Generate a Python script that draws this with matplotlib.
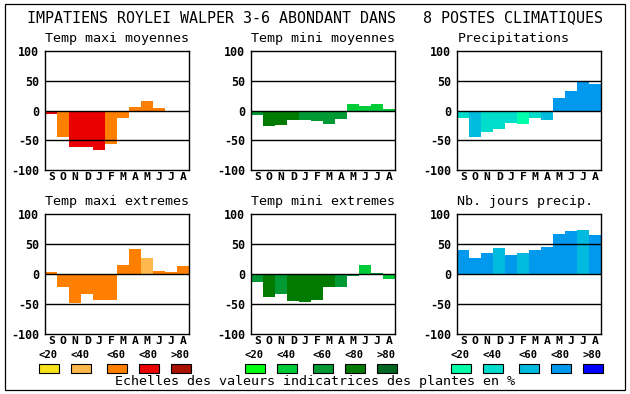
import matplotlib
matplotlib.use('Agg')
import matplotlib.pyplot as plt
from matplotlib.patches import Rectangle

months = ['S', 'O', 'N', 'D', 'J', 'F', 'M', 'A', 'M', 'J', 'J', 'A']
scale_labels = ['<20', '<40', '<60', '<80', '>80']

title = 'IMPATIENS ROYLEI WALPER 3-6 ABONDANT DANS   8 POSTES CLIMATIQUES'
footer = 'Echelles des valeurs indicatrices des plantes en %'

panel_titles = ['Temp maxi moyennes', 'Temp mini moyennes', 'Precipitations',
                'Temp maxi extremes', 'Temp mini extremes', 'Nb. jours precip.']

# values
tmax_moy = [-5.5, -44, -60.5, -60.5, -65.5, -56, -12, 5.5, 16, 4, -2, -2]
tmin_moy = [-8, -26, -24.5, -16, -16, -18, -23, -14.5, 10.5, 7, 11.5, 2]
precip = [-12, -44, -36, -31, -21, -23, -12, -16, 21.5, 33, 47, 44]
tmax_ext = [4, -21, -48, -33, -43, -43, 15.5, 42, 27, 5.5, 4, 14]
tmin_ext = [-13, -38, -33, -44.5, -46, -43, -21, -21, -3, 15, 2, -8]
nb_jours = [40.5, 27, 35.5, 44, 32, 35.5, 40.5, 45.5, 67, 72, 74, 65.5]

# colour class of each bar (0: <20 ... 4: >80)
tmax_moy_cls = [3, 2, 3, 3, 3, 2, 2, 2, 2, 2, 3, 3]
tmin_moy_cls = [2, 3, 3, 3, 2, 2, 2, 2, 1, 1, 1, 1]
precip_cls = [1, 2, 1, 1, 1, 0, 1, 2, 3, 3, 3, 3]
tmax_ext_cls = [2, 2, 2, 2, 2, 2, 2, 2, 1, 2, 2, 2]
tmin_ext_cls = [2, 3, 2, 3, 3, 3, 3, 2, 2, 1, 2, 1]
nb_jours_cls = [3, 3, 3, 2, 3, 2, 3, 3, 3, 3, 2, 3]

warm = ['#F6E31B', '#FFB84E', '#FF8000', '#EA0000', '#A81000']
green = ['#00FF10', '#00CC3A', '#009933', '#007A00', '#006622']
blue = ['#00FFAA', '#00DDCC', '#00BBDD', '#0099EE', '#0000FF']

values = [tmax_moy, tmin_moy, precip, tmax_ext, tmin_ext, nb_jours]
classes = [tmax_moy_cls, tmin_moy_cls, precip_cls, tmax_ext_cls, tmin_ext_cls, nb_jours_cls]
palettes = [warm, green, blue, warm, green, blue]

W, H = 630, 394
fig = plt.figure(figsize=(W / 100, H / 100), dpi=100)
mono = 'DejaVu Sans Mono'


def px(x, y, w, h):
    # pixel box (from top-left) -> figure fraction
    return [x / W, 1 - (y + h) / H, w / W, h / H]


fig.add_artist(Rectangle((5 / W, 1 - 390 / H), 620 / W, 386 / H,
                         transform=fig.transFigure, fill=False, lw=0.9, ec='black'))
fig.text(27 / W, 1 - 18 / H, title, family=mono, fontsize=10.8, va='center', ha='left')

lefts = [45.3, 251.3, 457.3]
tops = [50.8, 214.3]
for i in range(6):
    r, c = divmod(i, 3)
    ax = fig.add_axes(px(lefts[c], tops[r], 144, 119.5))
    cols = [palettes[i][k] for k in classes[i]]
    ax.bar(range(12), values[i], width=1.0, color=cols, linewidth=0, zorder=2)
    for yv in (-50, 0, 50):
        ax.axhline(yv, color='black', lw=1.0, zorder=3)
    ax.set_xlim(-0.5, 11.5)
    ax.set_ylim(-100, 100)
    ax.set_xticks(range(12))
    ax.set_xticklabels(months, family=mono, fontweight='bold', fontsize=8.2)
    ax.set_yticks([-100, -50, 0, 50, 100])
    ax.set_yticklabels(['-100', '-50', '0', '50', '100'], family=mono,
                       fontweight='bold', fontsize=8.4)
    ax.tick_params(axis='x', length=0, pad=1.5)
    ax.tick_params(axis='y', length=0, pad=4.5)
    for s in ax.spines.values():
        s.set_linewidth(1.0)
    ax.text(0, 1.05, panel_titles[i], transform=ax.transAxes, family=mono,
            fontsize=9.6, ha='left', va='bottom')

# colour scales under each column
box_lefts = [[39, 71, 107, 139, 171], [245, 277, 313, 345, 377], [451, 483, 519, 551, 583]]
for c, pal in enumerate([warm, green, blue]):
    for k in range(5):
        bx = box_lefts[c][k]
        fig.add_artist(Rectangle((bx / W, 1 - 373 / H), 20 / W, 9 / H,
                                 transform=fig.transFigure, fc=pal[k], ec='black', lw=0.8))
        fig.text((bx + 9) / W, 1 - 354.5 / H, scale_labels[k], family=mono,
                 fontweight='bold', fontsize=7.6, ha='center', va='center')

fig.text(315 / W, 1 - 382 / H, footer, family=mono, fontsize=9.6, ha='center', va='center')

fig.savefig('out.png', dpi=100)
